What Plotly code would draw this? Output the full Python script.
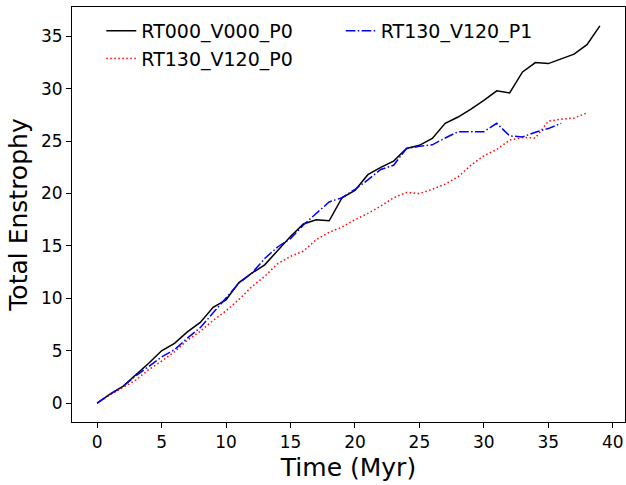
import plotly.graph_objects as go

time_black = list(range(0, 40))
enstrophy_black = [0, 0.85, 1.6, 2.7, 3.8, 5.0, 5.7, 6.8, 7.7, 9.15,
                   9.86, 11.5, 12.4, 13.2, 14.6, 15.9, 17.1, 17.5, 17.4, 19.6,
                   20.3, 21.8, 22.5, 23.1, 24.3, 24.6, 25.25, 26.7, 27.3, 28.05,
                   28.9, 29.8, 29.6, 31.6, 32.5, 32.4, 32.85, 33.3, 34.2, 36.0]

time_red = list(range(0, 39))
enstrophy_red = [0, 0.8, 1.5, 2.2, 3.2, 4.0, 4.9, 6.0, 6.85, 7.9,
                 8.8, 9.9, 11.1, 12.1, 13.3, 14.0, 14.5, 15.6, 16.3, 16.8,
                 17.5, 18.1, 18.8, 19.6, 20.1, 20.0, 20.4, 20.9, 21.6, 22.7,
                 23.6, 24.2, 25.1, 25.35, 25.3, 26.9, 27.1, 27.2, 27.7]

time_blue = list(range(0, 37))
enstrophy_blue = [0, 0.85, 1.6, 2.6, 3.5, 4.4, 5.1, 6.2, 7.2, 8.6,
                  10.0, 11.45, 12.4, 13.8, 14.9, 15.7, 17.0, 18.1, 19.2, 19.6,
                  20.4, 21.3, 22.3, 22.7, 24.3, 24.5, 24.65, 25.3, 25.9, 25.9,
                  25.9, 26.7, 25.5, 25.4, 25.85, 26.2, 26.7]

names = ["RT000_V000_P0", "RT130_V120_P0", "RT130_V120_P1"]
x_ticks = [0, 5, 10, 15, 20, 25, 30, 35, 40]
y_ticks = [0, 5, 10, 15, 20, 25, 30, 35]

FONT = "DejaVu Sans"

fig = go.Figure()
fig.add_trace(go.Scatter(x=time_black, y=enstrophy_black, mode="lines", name=names[0],
                         line=dict(color="black", width=1.5), legend="legend"))
fig.add_trace(go.Scatter(x=time_red, y=enstrophy_red, mode="lines", name=names[1],
                         line=dict(color="#ff0000", width=1.5, dash="1.5px,2.5px"),
                         legend="legend"))
fig.add_trace(go.Scatter(x=time_blue, y=enstrophy_blue, mode="lines", name=names[2],
                         line=dict(color="#0000ff", width=1.5, dash="9.6px,2.4px,1.5px,2.4px"),
                         legend="legend2"))

axis_common = dict(showgrid=False, zeroline=False, showline=True, linecolor="black",
                   linewidth=1, mirror=True, ticks="outside", ticklen=5, tickwidth=1,
                   tickcolor="black", automargin=False,
                   tickfont=dict(family=FONT, size=17, color="black"))

fig.update_layout(
    width=626, height=485,
    margin=dict(l=72, r=1, t=7, b=63),
    paper_bgcolor="white", plot_bgcolor="white",
    font=dict(family=FONT, color="black"),
    xaxis=dict(range=[-1.95, 40.95], tickvals=x_ticks,
               title=dict(text="Time (Myr)", font=dict(family=FONT, size=25), standoff=7),
               **axis_common),
    yaxis=dict(range=[-1.8, 37.8], tickvals=y_ticks,
               title=dict(text="Total Enstrophy", font=dict(family=FONT, size=25), standoff=6),
               **axis_common),
    legend=dict(x=0.053, y=0.988, xanchor="left", yanchor="top", bgcolor="rgba(0,0,0,0)",
                font=dict(family=FONT, size=19), tracegroupgap=0),
    legend2=dict(x=0.486, y=0.988, xanchor="left", yanchor="top", bgcolor="rgba(0,0,0,0)",
                 font=dict(family=FONT, size=19)),
)

# remove the browser's default page margin so the figure fills the window exactly
fig.write_html("out.html",
               config={"responsive": False, "displayModeBar": False},
               post_script="document.body.style.margin='0';document.body.style.overflow='hidden';")
